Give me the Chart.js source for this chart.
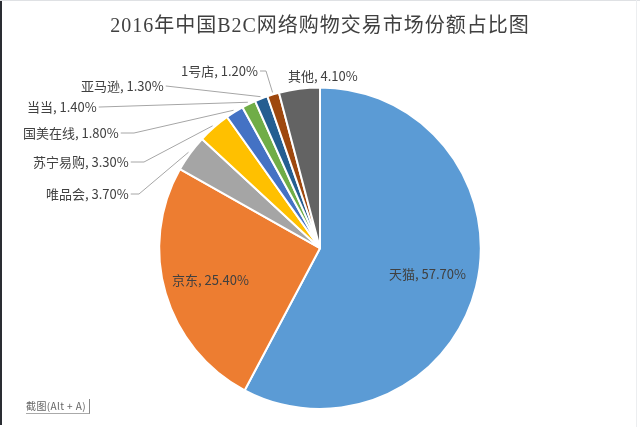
<!DOCTYPE html>
<html>
<head>
<meta charset="utf-8">
<style>
    html, body { margin: 0; padding: 0; background: #fff; }
    #wrap { position: relative; width: 640px; height: 427px; overflow: hidden; }
    #edge-left { position: absolute; left: 0; top: 0; width: 2px; height: 425px; background: #2a2d33; }
    #edge-top { position: absolute; left: 0; top: 0; width: 640px; height: 1px; background: #dfe1e4; }
    #edge-right { position: absolute; left: 636px; top: 0; width: 1px; height: 427px; background: #eceef0; }
    #tip {
        position: absolute; left: 26px; top: 399px; width: 63px; height: 14px;
        border-right: 1px solid #888; border-bottom: 1px solid #aaa;
        font: 10px/14px "Noto Sans CJK SC", sans-serif; letter-spacing: 0.4px; color: #666; white-space: nowrap;
    }
</style>
</head>
<body>
<div id="wrap">
    <canvas id="share-chart" width="640" height="427"></canvas>
    <div id="edge-left"></div>
    <div id="edge-top"></div>
    <div id="edge-right"></div>
    <div id="tip">截图(Alt + A)</div>
</div>
<script src="https://cdn.jsdelivr.net/npm/chart.js@4"></script>
<script>
    // 分类和占比
    const categories = ['天猫', '京东', '唯品会', '苏宁易购', '国美在线', '当当', '亚马逊', '1号店', '其他'];
    const shares = [57.7, 25.4, 3.7, 3.3, 1.8, 1.4, 1.3, 1.2, 4.1];
    const sliceColors = ['#5b9bd5', '#ed7d31', '#a5a5a5', '#ffc000', '#4472c4', '#70ad47', '#255e91', '#9e480e', '#636363'];

    // 标签位置: 左边x, 中心y, 引线折点x
    const labelPlaces = [
        { x: 389, y: 274 },
        { x: 172, y: 280 },
        { x: 46, y: 194, elbow: 139 },
        { x: 33, y: 162, elbow: 144 },
        { x: 23, y: 133, elbow: 134 },
        { x: 27, y: 107, elbow: 100 },
        { x: 81, y: 86, elbow: 166 },
        { x: 181, y: 71, elbow: 266 },
        { x: 288, y: 76 }
    ];

    // 画标签和引线
    const labelPlugin = {
        id: 'sliceLabels',
        beforeDraw(chart) {
            chart.ctx.letterSpacing = '1px';
        },
        afterDraw(chart) {
            const ctx = chart.ctx;
            const arcs = chart.getDatasetMeta(0).data;
            ctx.save();
            ctx.letterSpacing = '0px';
            ctx.font = '13px "Noto Sans CJK SC", sans-serif';
            ctx.textBaseline = 'middle';
            ctx.textAlign = 'left';
            arcs.forEach((arc, i) => {
                const place = labelPlaces[i];
                const text = categories[i] + ', ' + shares[i].toFixed(2) + '%';
                ctx.fillStyle = '#404040';
                ctx.fillText(text, place.x, place.y);
                if (place.elbow === undefined) return;
                const mid = (arc.startAngle + arc.endAngle) / 2;
                const tipX = arc.x + Math.cos(mid) * (arc.outerRadius + 2);
                const tipY = arc.y + Math.sin(mid) * (arc.outerRadius + 2);
                const startX = place.x + ctx.measureText(text).width + 2;
                ctx.strokeStyle = '#a6a6a6';
                ctx.lineWidth = 1;
                ctx.beginPath();
                ctx.moveTo(startX, place.y);
                ctx.lineTo(Math.max(place.elbow, startX), place.y);
                ctx.lineTo(tipX, tipY);
                ctx.stroke();
            });
            ctx.restore();
        }
    };

    new Chart(document.getElementById('share-chart'), {
        type: 'pie',
        data: {
            labels: categories,
            datasets: [{
                data: shares,
                backgroundColor: sliceColors,
                borderColor: '#ffffff',
                borderWidth: 2
            }]
        },
        options: {
            responsive: false,
            animation: false,
            layout: { padding: { left: 0, right: 0, top: 0, bottom: 17 } },
            plugins: {
                legend: { display: false },
                tooltip: { enabled: false },
                title: {
                    display: true,
                    text: '2016年中国B2C网络购物交易市场份额占比图',
                    color: '#404040',
                    font: { family: '"Liberation Serif", "Noto Sans CJK SC", serif', size: 20, weight: 'normal' },
                    padding: { top: 15, bottom: 47.4 }
                }
            }
        },
        plugins: [labelPlugin]
    });
</script>
</body>
</html>
